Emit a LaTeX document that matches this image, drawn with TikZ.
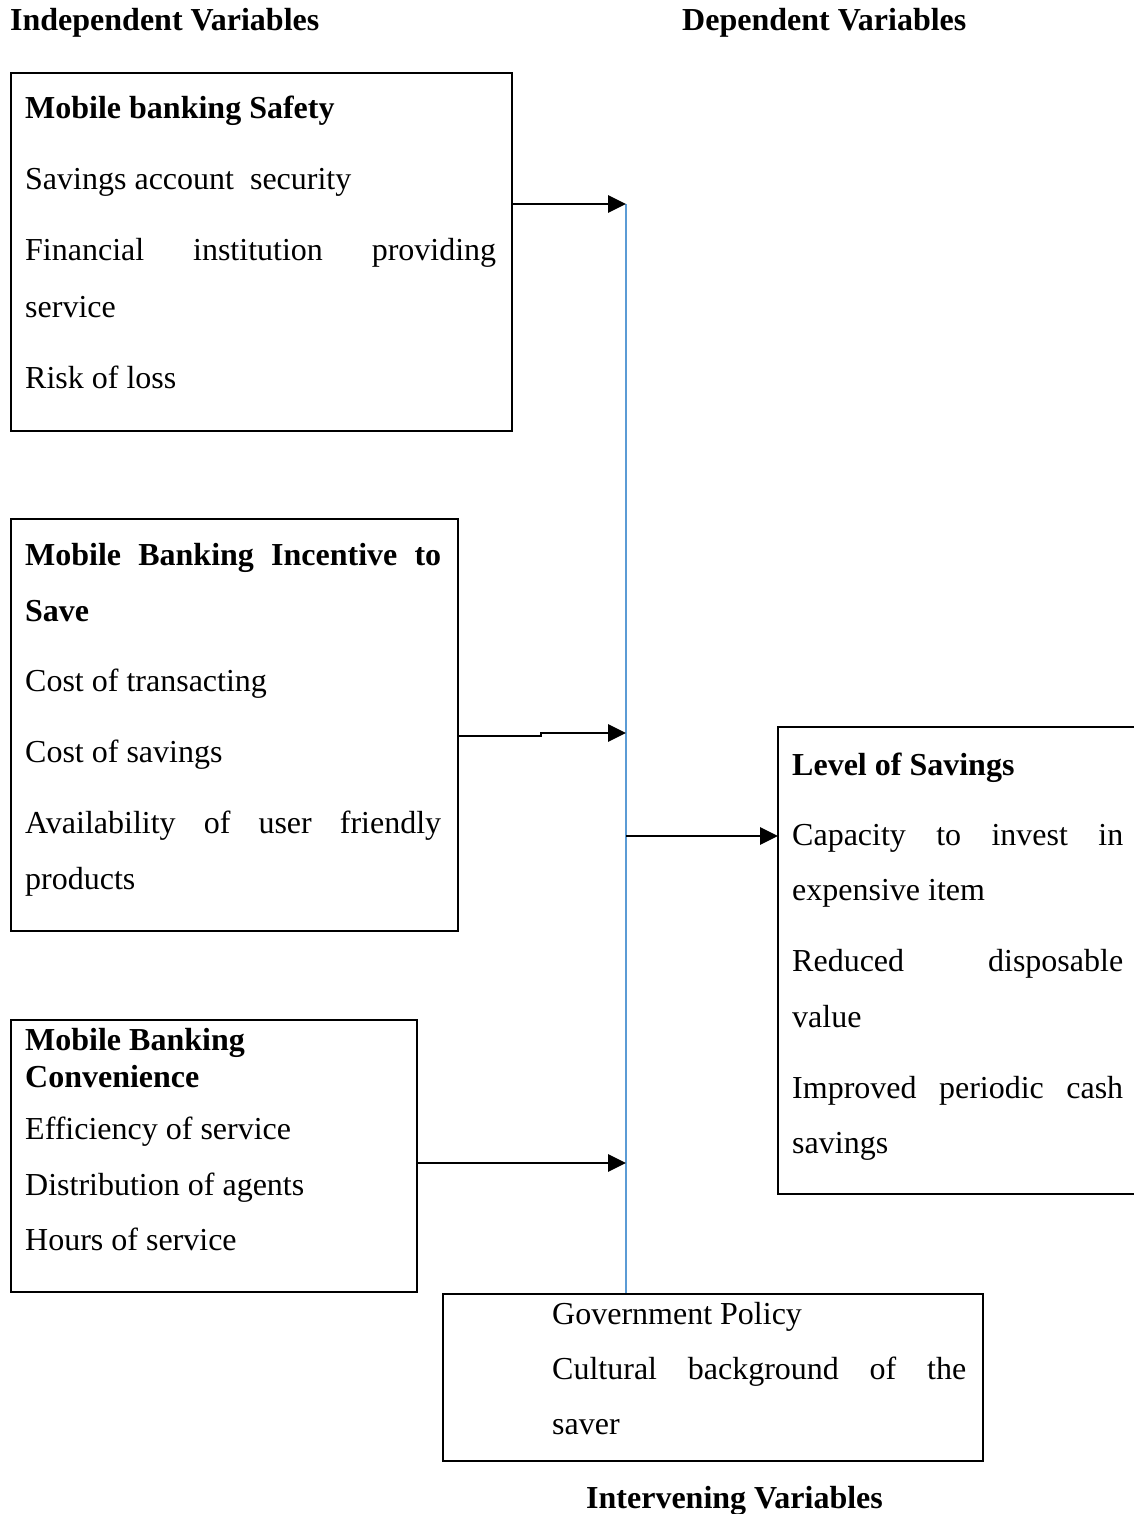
\documentclass[tikz,border=0pt]{standalone}
\usepackage{fontspec}
\setmainfont{Liberation Serif}
\usetikzlibrary{arrows.meta}
\tikzset{
  box/.style={draw=black,line width=2pt,inner sep=0pt,anchor=north west},
  txt/.style={anchor=base west,inner sep=0pt,font=\fontsize{32}{38}\selectfont},
  btxt/.style={txt,font=\fontsize{32}{38}\selectfont\bfseries},
  arr/.style={line width=2.8pt,-{Triangle[length=18pt,width=17pt]}},
  vline/.style={draw={rgb,255:red,91;green,155;blue,213},line width=1.2pt}
}
\begin{document}
\begin{tikzpicture}[x=1pt,y=-1pt]
\useasboundingbox (0,0) rectangle (1133,1514);
% headings
\node[btxt] (hind) at (10,31) {Independent Variables};
\node[btxt] (hdep) at (682,31) {Dependent Variables};
\node[btxt] (hint) at (586,1508) {Intervening Variables};
% boxes
\node[box,minimum width=501pt,minimum height=358pt] (b1) at (10,72) {};
\node[box,minimum width=447pt,minimum height=412pt] (b2) at (10,518) {};
\node[box,minimum width=406pt,minimum height=272pt] (b3) at (10,1019) {};
\node[box,minimum width=540pt,minimum height=167pt] (b5) at (442,1293) {};
\coordinate (r1) at (1140,727);
\coordinate (r2) at (778,727);
\coordinate (r3) at (778,1194);
\coordinate (r4) at (1140,1194);
\draw[line width=2pt] (r1) -- (r2) -- (r3) -- (r4);
% box 1 text
\node[btxt] (t11) at (25,119) {Mobile banking Safety};
\node[txt] (t12) at (25,190) {Savings account~ security};
\node[txt] (t13) at (25,261) {\makebox[471pt][s]{Financial institution providing}};
\node[txt] (t14) at (25,317) {service};
\node[txt] (t15) at (25,388) {Risk of loss};
% box 2 text
\node[btxt] (t21) at (25,565) {\makebox[416pt][s]{Mobile Banking Incentive to}};
\node[btxt] (t22) at (25,621) {Save};
\node[txt] (t23) at (25,691) {Cost of transacting};
\node[txt] (t24) at (25,762) {Cost of savings};
\node[txt] (t25) at (25,833) {\makebox[416pt][s]{Availability of user friendly}};
\node[txt] (t26) at (25,889) {products};
% box 3 text
\node[btxt] (t31) at (25,1050) {Mobile Banking};
\node[btxt] (t32) at (25,1087) {Convenience};
\node[txt] (t33) at (25,1139) {Efficiency of service};
\node[txt] (t34) at (25,1195) {Distribution of agents};
\node[txt] (t35) at (25,1250) {Hours of service};
% right box text
\node[btxt] (t41) at (792,775) {Level of Savings};
\node[txt] (t42) at (792,845) {\makebox[331pt][s]{Capacity to invest in}};
\node[txt] (t43) at (792,900) {expensive item};
\node[txt] (t44) at (792,971) {\makebox[331pt][s]{Reduced disposable}};
\node[txt] (t45) at (792,1027) {value};
\node[txt] (t46) at (792,1098) {\makebox[331pt][s]{Improved periodic cash}};
\node[txt] (t47) at (792,1153) {savings};
% bottom box text
\node[txt] (t51) at (552,1324) {Government Policy};
\node[txt] (t52) at (552,1379) {\makebox[414pt][s]{Cultural background of the}};
\node[txt] (t53) at (552,1434) {saver};
% vertical line and arrows
\coordinate (v1) at (626,204);
\coordinate (v2) at (626,733);
\coordinate (v3) at (626,1163);
\coordinate (vm) at (626,836);
\coordinate (j2) at (541,736);
\draw[vline] (v1) -- (b5.north -| v1);
\draw[arr] (b1.east |- v1) -- (v1);
\draw[arr] (b2.east |- j2) -- (j2) -- (j2 |- v2) -- (v2);
\draw[arr] (b3.east |- v3) -- (v3);
\draw[arr] (vm) -- (r2 |- vm);
\end{tikzpicture}
\end{document}
